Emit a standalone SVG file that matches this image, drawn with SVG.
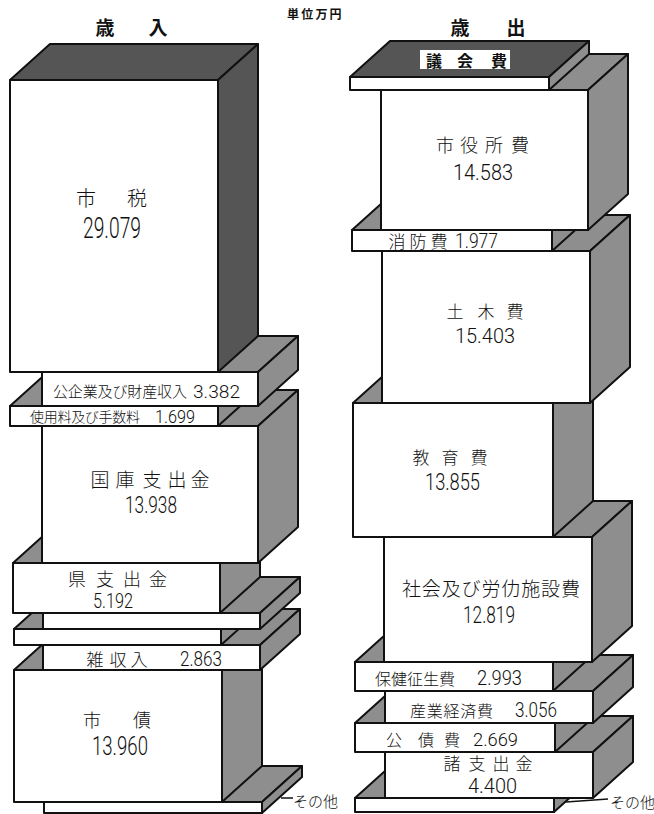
<svg xmlns="http://www.w3.org/2000/svg" width="654" height="814" viewBox="0 0 654 814">
<style>
.f{fill:#fff;stroke:#111;stroke-width:2;stroke-linejoin:round}
.m{fill:#8e8e8e;stroke:#111;stroke-width:2;stroke-linejoin:round}
.d{fill:#555;stroke:#111;stroke-width:2;stroke-linejoin:round}
.k{font-family:"Noto Sans CJK JP","Noto Sans CJK SC",sans-serif;fill:#111;font-weight:300}
.n{font-family:Roboto,"Liberation Sans",sans-serif;fill:#111;font-weight:300}
.c{text-anchor:middle}
.b{font-weight:bold}
.ln{stroke:#111;stroke-width:1.5;fill:none}
</style>
<rect width="654" height="814" fill="#fff"/>
<text class="k b c" x="105 158" y="35" font-size="19">歳入</text>
<text class="k b" x="287" y="19" font-size="12" letter-spacing="2.2">単位万円</text>
<text class="k b c" x="460 516" y="35" font-size="19">歳出</text>

<!-- LEFT COLUMN (bottom to top) -->
<g id="in-sonota">
<polygon class="m" points="44,802 84,766 302,766 262,802"/>
<polygon class="m" points="262,802 302,766 302,777 262,813"/>
<rect class="f" x="44" y="802" width="218" height="11"/>
</g>
<g id="in-shisai">
<polygon class="m" points="14,670 54,634 262,634 222,670"/>
<polygon class="m" points="222,670 262,634 262,766 222,802"/>
<rect class="f" x="14" y="670" width="208" height="132"/>
<text class="k c" x="92 142" y="727" font-size="18">市債</text>
<text class="n" x="92" y="755" font-size="25" textLength="56" lengthAdjust="spacingAndGlyphs">13.960</text>
</g>
<g id="in-zatsu">
<polygon class="m" points="43,645 83,609 300,609 260,645"/>
<polygon class="m" points="260,645 300,609 300,634 260,670"/>
<rect class="f" x="43" y="645" width="217" height="25"/>
<text class="k c" x="95 118 139" y="666" font-size="17">雑収入</text>
<text class="n" x="180" y="666" font-size="21" textLength="42" lengthAdjust="spacingAndGlyphs">2.863</text>
</g>
<g id="in-blank2">
<polygon class="m" points="14,629 54,593 261,593 221,629"/>
<polygon class="m" points="221,629 261,593 261,609 221,645"/>
<rect class="f" x="14" y="629" width="207" height="16"/>
</g>
<g id="in-blank1">
<polygon class="m" points="43,613 83,577 300,577 260,613"/>
<polygon class="m" points="260,613 300,577 300,593 260,629"/>
<rect class="f" x="43" y="613" width="217" height="16"/>
</g>
<g id="in-ken">
<polygon class="m" points="13,563 53,527 260,527 220,563"/>
<polygon class="m" points="220,563 260,527 260,577 220,613"/>
<rect class="f" x="13" y="563" width="207" height="50"/>
<text class="k c" x="77 105 132 158" y="586" font-size="18">県支出金</text>
<text class="n" x="93" y="608" font-size="21" textLength="40" lengthAdjust="spacingAndGlyphs">5.192</text>
</g>
<g id="in-kokko">
<polygon class="m" points="42,426 82,390 298,390 258,426"/>
<polygon class="m" points="258,426 298,390 298,527 258,563"/>
<rect class="f" x="42" y="426" width="216" height="137"/>
<text class="k c" x="100 125 152 177 200" y="487" font-size="19">国庫支出金</text>
<text class="n" x="125" y="513" font-size="23" textLength="52" lengthAdjust="spacingAndGlyphs">13.938</text>
</g>
<g id="in-shiyoryo">
<polygon class="m" points="10,406 50,370 258,370 218,406"/>
<polygon class="m" points="218,406 258,370 258,390 218,426"/>
<rect class="f" x="10" y="406" width="208" height="20"/>
<text class="k" x="30" y="422" font-size="14" textLength="110">使用料及び手数料</text>
<text class="n" x="155" y="423" font-size="18" textLength="40" lengthAdjust="spacingAndGlyphs">1.699</text>
</g>
<g id="in-kokigyo">
<polygon class="m" points="42,372 82,336 298,336 258,372"/>
<polygon class="m" points="258,372 298,336 298,370 258,406"/>
<rect class="f" x="42" y="372" width="216" height="34"/>
<text class="k" x="53" y="397" font-size="15" textLength="134">公企業及び財産収入</text>
<text class="n" x="193" y="398" font-size="18" textLength="47" lengthAdjust="spacingAndGlyphs">3.382</text>
</g>
<g id="in-shizei">
<polygon class="d" points="10,80 50,44 258,44 218,80"/>
<polygon class="d" points="218,80 258,44 258,336 218,372"/>
<rect class="f" x="10" y="80" width="208" height="292"/>
<text class="k c" x="86 137" y="206" font-size="20">市税</text>
<text class="n" x="83" y="238" font-size="30" textLength="58" lengthAdjust="spacingAndGlyphs">29.079</text>
</g>

<!-- RIGHT COLUMN (bottom to top) -->
<g id="out-sonota">
<polygon class="m" points="355,798 395,762 594,762 554,798"/>
<polygon class="m" points="554,798 594,762 594,776 554,812"/>
<rect class="f" x="355" y="798" width="199" height="14"/>
</g>
<g id="out-shoshishutsu">
<polygon class="m" points="385,752 425,716 633,716 593,752"/>
<polygon class="m" points="593,752 633,716 633,762 593,798"/>
<rect class="f" x="385" y="752" width="208" height="46"/>
<text class="k c" x="452 477 501 524" y="770" font-size="17">諸支出金</text>
<text class="n" x="468" y="793" font-size="21" textLength="49" lengthAdjust="spacingAndGlyphs">4.400</text>
</g>
<g id="out-kosai">
<polygon class="m" points="355,723 395,687 595,687 555,723"/>
<polygon class="m" points="555,723 595,687 595,716 555,752"/>
<rect class="f" x="355" y="723" width="200" height="29"/>
<text class="k c" x="394 426 452" y="746" font-size="16">公債費</text>
<text class="n" x="473" y="746" font-size="19" textLength="45" lengthAdjust="spacingAndGlyphs">2.669</text>
</g>
<g id="out-sangyo">
<polygon class="m" points="385,691 425,655 633,655 593,691"/>
<polygon class="m" points="593,691 633,655 633,687 593,723"/>
<rect class="f" x="385" y="691" width="208" height="32"/>
<text class="k" x="410" y="717" font-size="16" textLength="83">産業経済費</text>
<text class="n" x="515" y="717" font-size="20" textLength="42" lengthAdjust="spacingAndGlyphs">3.056</text>
</g>
<g id="out-hoken">
<polygon class="m" points="355,662 395,626 593,626 553,662"/>
<polygon class="m" points="553,662 593,626 593,655 553,691"/>
<rect class="f" x="355" y="662" width="198" height="29"/>
<text class="k" x="375" y="685" font-size="16" textLength="80">保健征生費</text>
<text class="n" x="477" y="685" font-size="20" textLength="45" lengthAdjust="spacingAndGlyphs">2.993</text>
</g>
<g id="out-shakai">
<polygon class="m" points="384,537 424,501 632,501 592,537"/>
<polygon class="m" points="592,537 632,501 632,626 592,662"/>
<rect class="f" x="384" y="537" width="208" height="125"/>
<text class="k" x="402" y="596" font-size="19" textLength="178">社会及び労仂施設費</text>
<text class="n" x="463" y="623" font-size="24" textLength="52" lengthAdjust="spacingAndGlyphs">12.819</text>
</g>
<g id="out-kyoiku">
<polygon class="m" points="353,403 393,367 593,367 553,403"/>
<polygon class="m" points="553,403 593,367 593,501 553,537"/>
<rect class="f" x="353" y="403" width="200" height="134"/>
<text class="k c" x="421 450 479" y="464" font-size="17">教育費</text>
<text class="n" x="425" y="490" font-size="23" textLength="55" lengthAdjust="spacingAndGlyphs">13.855</text>
</g>
<g id="out-doboku">
<polygon class="m" points="382,251 422,215 630,215 590,251"/>
<polygon class="m" points="590,251 630,215 630,367 590,403"/>
<rect class="f" x="382" y="251" width="208" height="152"/>
<text class="k c" x="455 486 515" y="318" font-size="17">土木費</text>
<text class="n" x="455" y="343" font-size="21" textLength="60" lengthAdjust="spacingAndGlyphs">15.403</text>
</g>
<g id="out-shobo">
<polygon class="m" points="352,230 392,194 592,194 552,230"/>
<polygon class="m" points="552,230 592,194 592,215 552,251"/>
<rect class="f" x="352" y="230" width="200" height="21"/>
<text class="k c" x="397 418 439" y="248" font-size="17">消防費</text>
<text class="n" x="455" y="248" font-size="20" textLength="43" lengthAdjust="spacingAndGlyphs">1.977</text>
</g>
<g id="out-shiyakusho">
<polygon class="m" points="381,90 421,54 628,54 588,90"/>
<polygon class="m" points="588,90 628,54 628,194 588,230"/>
<rect class="f" x="381" y="90" width="207" height="140"/>
<text class="k c" x="445 469 494 520" y="152" font-size="18">市役所費</text>
<text class="n" x="453" y="180" font-size="22" textLength="60" lengthAdjust="spacingAndGlyphs">14.583</text>
</g>
<g id="out-gikai">
<polygon class="d" points="350,77 390,41 589,41 549,77"/>
<polygon class="m" points="549,77 589,41 589,54 549,90"/>
<rect class="f" x="350" y="77" width="199" height="13"/>
<rect x="420" y="50" width="90" height="19" fill="#fff"/>
<text class="k b c" x="434 465 499" y="67" font-size="16">議会費</text>
</g>

<g id="connectors">
<line class="ln" x1="281" y1="798" x2="293" y2="798"/>
<line class="ln" x1="566" y1="802" x2="608" y2="799"/>
</g>
<text class="k" x="293" y="807" font-size="15">その他</text>
<text class="k" x="610" y="808" font-size="15">その他</text>
</svg>
